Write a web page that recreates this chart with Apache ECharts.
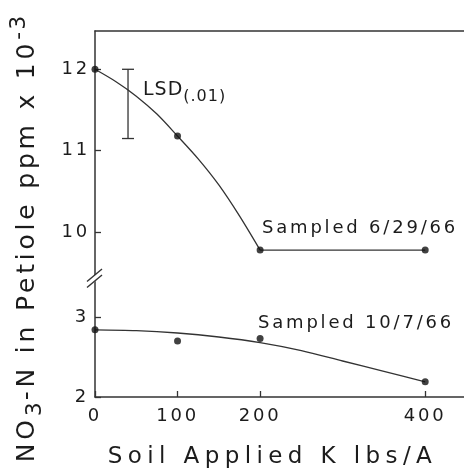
<!DOCTYPE html>
<html>
<head>
<meta charset="utf-8">
<script src="https://cdn.jsdelivr.net/npm/echarts@6/dist/echarts.min.js"></script>
<style>
html,body{margin:0;padding:0;background:#fff;}
#chart{width:464px;height:474px;}
</style>
</head>
<body>
<div id="chart"></div>
<script>
// ---- data ----
const xTicks = [0, 100, 200, 400];
const topTicks = [10, 11, 12];
const bottomTicks = [2, 3];

// Sampled 6/29/66 (top panel)
const juneX = [0, 100, 200, 400];
const juneY = [12.0, 11.18, 9.78, 9.78];
// fitted curve
const juneCurveX = [0, 25, 50, 75, 100, 125, 150, 175, 200, 400];
const juneCurveY = [12.0, 11.85, 11.67, 11.45, 11.18, 10.9, 10.58, 10.2, 9.78, 9.78];

// Sampled 10/7/66 (bottom panel)
const octX = [0, 100, 200, 400];
const octY = [2.84, 2.70, 2.73, 2.19];
const octCurveX = [0, 50, 100, 150, 200, 250, 300, 350, 400];
const octCurveY = [2.84, 2.83, 2.80, 2.75, 2.68, 2.58, 2.45, 2.32, 2.19];

// LSD(.01) bar
const lsdX = [40];
const lsdLow = [11.15];
const lsdHigh = [12.0];

// ---- letter spacing emulation for lettering-style text ----
(function(){
  const proto = CanvasRenderingContext2D.prototype;
  const d = Object.getOwnPropertyDescriptor(proto, 'font');
  if (!d || !('letterSpacing' in proto)) return;
  const table = {'18': 2.8, '23': 5.4, '25': 3.8, '22': 2, '19': 1, '16': 1};
  Object.defineProperty(proto, 'font', {
    configurable: true,
    enumerable: d.enumerable,
    get: function(){ return d.get.call(this); },
    set: function(v){
      d.set.call(this, v);
      const m = /(\d+(?:\.\d+)?)px/.exec(v);
      const s = m ? (table[m[1]] || 0) : 0;
      try { this.letterSpacing = s + 'px'; } catch(e) {}
    }
  });
})();

const FONT = 'DejaVu Sans';
const INK = '#1c1c1c';
const LINE = '#333';

const pairs = (xs, ys) => xs.map((x, i) => [x, ys[i]]);

const chart = echarts.init(document.getElementById('chart'), null, {renderer: 'canvas'});
chart.setOption({
  animation: false,
  backgroundColor: '#fff',
  textStyle: {fontFamily: FONT, color: INK},
  grid: [
    {left: 95, right: 0, top: 31, height: 246},
    {left: 95, right: 0, top: 277, height: 120}
  ],
  xAxis: [
    {
      gridIndex: 0, type: 'value', position: 'top', min: 0, max: 447,
      axisLine: {show: true, lineStyle: {color: LINE, width: 1.5}},
      axisTick: {show: false}, axisLabel: {show: false}, splitLine: {show: false}
    },
    {
      gridIndex: 1, type: 'value', position: 'bottom', min: 0, max: 447,
      axisLine: {show: true, lineStyle: {color: LINE, width: 1.5}},
      axisTick: {show: true, inside: true, length: 6, customValues: xTicks, lineStyle: {color: LINE, width: 1.3}},
      axisLabel: {show: true, customValues: xTicks, margin: 9, fontSize: 18, color: INK, fontFamily: FONT, showMaxLabel: true},
      splitLine: {show: false},
      name: 'Soil Applied K lbs/A', nameLocation: 'middle', nameGap: 46,
      nameTextStyle: {fontSize: 23, color: INK, fontFamily: FONT, padding: [0, 14, 0, 0]}
    }
  ],
  yAxis: [
    {
      gridIndex: 0, type: 'value', min: 9.45, max: 12.47,
      axisLine: {show: true, lineStyle: {color: LINE, width: 1.5}},
      axisTick: {show: true, inside: true, length: 6, customValues: topTicks, lineStyle: {color: LINE, width: 1.3}},
      axisLabel: {show: true, customValues: topTicks, margin: 5, fontSize: 18, color: INK, fontFamily: FONT},
      splitLine: {show: false}
    },
    {
      gridIndex: 1, type: 'value', min: 2, max: 3.5,
      axisLine: {show: true, lineStyle: {color: LINE, width: 1.5}},
      axisTick: {show: true, inside: true, length: 6, customValues: bottomTicks, lineStyle: {color: LINE, width: 1.3}},
      axisLabel: {show: true, customValues: bottomTicks, margin: 6, fontSize: 18, color: INK, fontFamily: FONT},
      splitLine: {show: false}
    }
  ],
  series: [
    {
      name: 'June curve', type: 'line', xAxisIndex: 0, yAxisIndex: 0,
      data: pairs(juneCurveX.slice(0, 9), juneCurveY.slice(0, 9)), smooth: 0.3,
      showSymbol: false, lineStyle: {color: LINE, width: 1.3}, z: 3
    },
    {
      name: 'June flat', type: 'line', xAxisIndex: 0, yAxisIndex: 0,
      data: pairs(juneCurveX.slice(8), juneCurveY.slice(8)),
      showSymbol: false, lineStyle: {color: LINE, width: 1.3}, z: 3
    },
    {
      name: 'Sampled 6/29/66', type: 'scatter', xAxisIndex: 0, yAxisIndex: 0,
      data: pairs(juneX, juneY), symbol: 'circle', symbolSize: 7,
      itemStyle: {color: '#111'}, z: 5
    },
    {
      name: 'Oct curve', type: 'line', xAxisIndex: 1, yAxisIndex: 1,
      data: pairs(octCurveX, octCurveY), smooth: 0.3,
      showSymbol: false, lineStyle: {color: LINE, width: 1.3}, z: 3
    },
    {
      name: 'Sampled 10/7/66', type: 'scatter', xAxisIndex: 1, yAxisIndex: 1,
      data: pairs(octX, octY), symbol: 'circle', symbolSize: 7,
      itemStyle: {color: '#111'}, z: 5
    },
    {
      name: 'LSD', type: 'custom', xAxisIndex: 0, yAxisIndex: 0,
      data: lsdX.map((x, i) => [x, lsdLow[i], lsdHigh[i]]),
      renderItem: function(params, api){
        const x = api.value(0);
        const lo = api.coord([x, api.value(1)]);
        const hi = api.coord([x, api.value(2)]);
        const st = {stroke: LINE, lineWidth: 1.3};
        return {type: 'group', children: [
          {type: 'line', shape: {x1: lo[0], y1: lo[1], x2: hi[0], y2: hi[1]}, style: st},
          {type: 'line', shape: {x1: lo[0]-6, y1: lo[1], x2: lo[0]+6, y2: lo[1]}, style: st},
          {type: 'line', shape: {x1: hi[0]-6, y1: hi[1], x2: hi[0]+6, y2: hi[1]}, style: st},
          {type: 'text', x: hi[0] + 15, y: hi[1] + 21, style: {
            text: '{a|LSD}{b|(.01)}', fill: INK,
            align: 'left', verticalAlign: 'middle',
            rich: {
              a: {fontSize: 19, fontFamily: FONT, fill: INK, lineHeight: 30, verticalAlign: 'middle'},
              b: {fontSize: 16, fontFamily: FONT, fill: INK, lineHeight: 17, verticalAlign: 'bottom'}
            }
          }}
        ]};
      },
      z: 4
    }
  ],
  graphic: [
    // axis break
    {type: 'polygon', shape: {points: [[88, 281], [103, 268.5], [103, 275], [88, 287.5]]}, style: {fill: '#fff'}, z: 100},
    {type: 'line', shape: {x1: 87, y1: 281.5, x2: 102, y2: 269}, style: {stroke: LINE, lineWidth: 1.4}, z: 101},
    {type: 'line', shape: {x1: 87, y1: 287.5, x2: 102, y2: 275}, style: {stroke: LINE, lineWidth: 1.4}, z: 101},
    // series labels
    {type: 'text', x: 262, y: 228, style: {text: 'Sampled 6/29/66', font: '18px ' + FONT, fill: INK, align: 'left', verticalAlign: 'middle'}, z: 50},
    {type: 'text', x: 258, y: 323, style: {text: 'Sampled 10/7/66', font: '18px ' + FONT, fill: INK, align: 'left', verticalAlign: 'middle'}, z: 50},
    // y axis title
    {type: 'text', x: 27, y: 238, rotation: Math.PI / 2, style: {
      text: '{a|NO}{b|3}{a|-N in Petiole ppm x 10}{c|-3}', fill: INK,
      align: 'center', verticalAlign: 'middle',
      rich: {
        a: {fontSize: 25, fontFamily: FONT, fill: INK, lineHeight: 40, verticalAlign: 'middle'},
        b: {fontSize: 22, fontFamily: FONT, fill: INK, lineHeight: 22, verticalAlign: 'bottom'},
        c: {fontSize: 22, fontFamily: FONT, fill: INK, lineHeight: 22, verticalAlign: 'top'}
      }
    }, z: 50}
  ]
});
</script>
</body>
</html>
